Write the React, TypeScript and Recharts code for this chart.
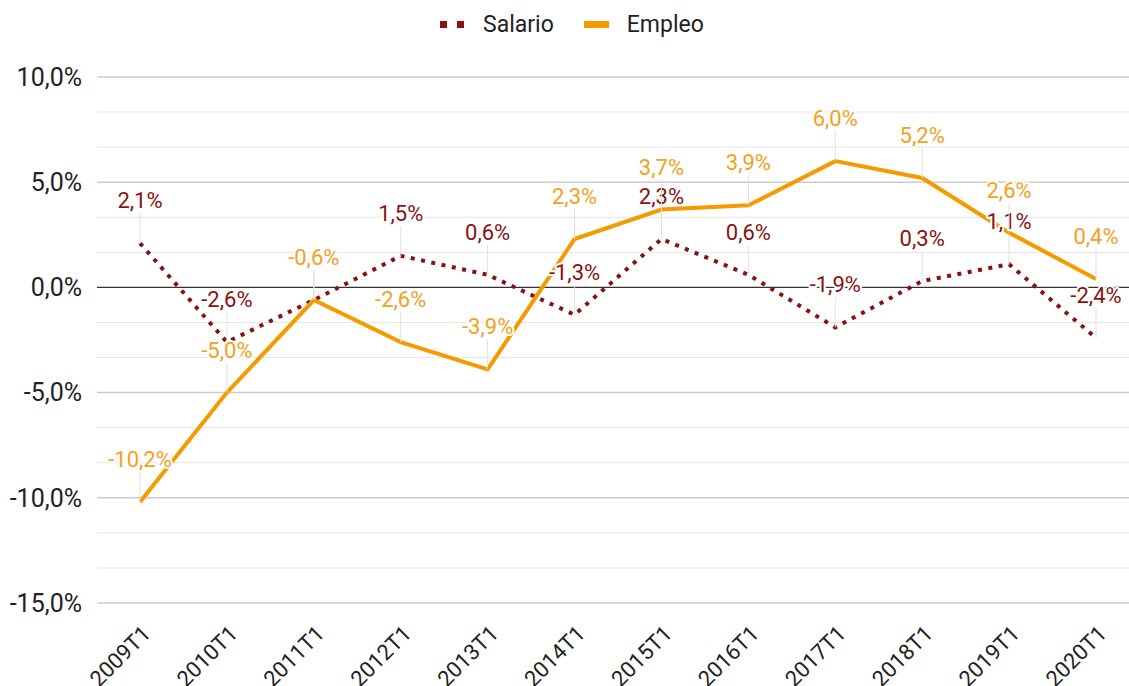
import React from 'react';
import { LineChart, Line, XAxis, YAxis, ReferenceLine, Legend, LabelList } from 'recharts';

const periods = ['2009T1', '2010T1', '2011T1', '2012T1', '2013T1', '2014T1', '2015T1', '2016T1', '2017T1', '2018T1', '2019T1', '2020T1'];
const salario = [2.1, -2.6, -0.6, 1.5, 0.6, -1.3, 2.3, 0.6, -1.9, 0.3, 1.1, -2.4];
const empleo = [-10.2, -5.0, -0.6, -2.6, -3.9, 2.3, 3.7, 3.9, 6.0, 5.2, 2.6, 0.4];
const majorTicks = [-15, -10, -5, 0, 5, 10];
const minorTicks = [-13.333, -11.667, -8.333, -6.667, -3.333, -1.667, 1.667, 3.333, 6.667, 8.333];

const SALARIO_COLOR = '#8A1111';
const EMPLEO_COLOR = '#F59B00';
const EMPLEO_TEXT = '#F4A020';
const FONT = 'Roboto, "Noto Sans", sans-serif';

const data = periods.map((p, i) => ({ period: p, salario: salario[i], empleo: empleo[i] }));

const fmt = (v: number) => v.toFixed(1).replace('.', ',') + '%';

const makeLabel = (color: string) => (props: any) => {
  const { x, y, value } = props;
  if (x == null || y == null) return null;
  return (
    <g>
      <line x1={x} y1={y} x2={x} y2={y - 30} stroke="#e0e0e0" strokeWidth={1} />
      <text
        x={x}
        y={y - 35}
        textAnchor="middle"
        fontFamily={FONT}
        fontSize={22}
        fill={color}
        stroke="#fff"
        strokeWidth={4}
        strokeLinejoin="round"
        style={{ paintOrder: 'stroke' }}
      >
        {fmt(Number(value))}
      </text>
    </g>
  );
};

const XTick = (props: any) => {
  const { x, y, payload } = props;
  return (
    <text
      x={x + 12}
      y={y + 24}
      textAnchor="end"
      transform={`rotate(-45, ${x + 12}, ${y + 24})`}
      fontFamily={FONT}
      fontSize={22}
      fill="#222"
    >
      {payload.value}
    </text>
  );
};

const LegendContent = () => (
  <div style={{ height: 48, display: 'flex', alignItems: 'center', paddingLeft: 440, fontFamily: FONT, fontSize: 23, color: '#222' }}>
    <span style={{ display: 'inline-block', width: 7, height: 7, background: SALARIO_COLOR }} />
    <span style={{ display: 'inline-block', width: 7, height: 7, background: SALARIO_COLOR, marginLeft: 10 }} />
    <span style={{ marginLeft: 19 }}>Salario</span>
    <span style={{ display: 'inline-block', width: 25, height: 7, background: EMPLEO_COLOR, marginLeft: 30 }} />
    <span style={{ marginLeft: 18 }}>Empleo</span>
  </div>
);

export default function App() {
  return (
    <div style={{ position: 'absolute', left: 0, top: 0, width: 1129, height: 686, background: '#fff' }}>
      <LineChart width={1129} height={686} data={data} margin={{ top: 29, right: 0, bottom: 0, left: 0 }}>
        <Legend verticalAlign="top" wrapperStyle={{ top: 0, left: 0, width: 1129 }} content={<LegendContent />} />
        <XAxis
          dataKey="period"
          axisLine={false}
          tickLine={false}
          height={83}
          padding={{ left: 43, right: 33 }}
          tick={<XTick />}
          interval={0}
        />
        <YAxis
          domain={[-15, 10]}
          ticks={majorTicks}
          width={97}
          axisLine={false}
          tickLine={false}
          tickMargin={9}
          tickFormatter={fmt}
          tick={{ fontFamily: FONT, fontSize: 25, fill: '#222' }}
        />
        {minorTicks.map((v) => (
          <ReferenceLine key={'mi' + v} y={v} stroke="#e6e6e6" strokeWidth={1} />
        ))}
        {majorTicks.map((v) => (
          <ReferenceLine key={'ma' + v} y={v} stroke={v === 0 ? '#333' : '#cccccc'} strokeWidth={v === 0 ? 1.2 : 1.5} />
        ))}
        <Line
          dataKey="salario"
          name="Salario"
          stroke={SALARIO_COLOR}
          strokeWidth={4}
          strokeDasharray="4 6.5"
          dot={false}
          activeDot={false}
          isAnimationActive={false}
        />
        <Line
          dataKey="empleo"
          name="Empleo"
          stroke={EMPLEO_COLOR}
          strokeWidth={4}
          dot={false}
          activeDot={false}
          isAnimationActive={false}
        />
        <Line dataKey="salario" stroke="none" dot={false} activeDot={false} legendType="none" isAnimationActive={false}>
          <LabelList dataKey="salario" content={makeLabel(SALARIO_COLOR)} />
        </Line>
        <Line dataKey="empleo" stroke="none" dot={false} activeDot={false} legendType="none" isAnimationActive={false}>
          <LabelList dataKey="empleo" content={makeLabel(EMPLEO_TEXT)} />
        </Line>
      </LineChart>
    </div>
  );
}
